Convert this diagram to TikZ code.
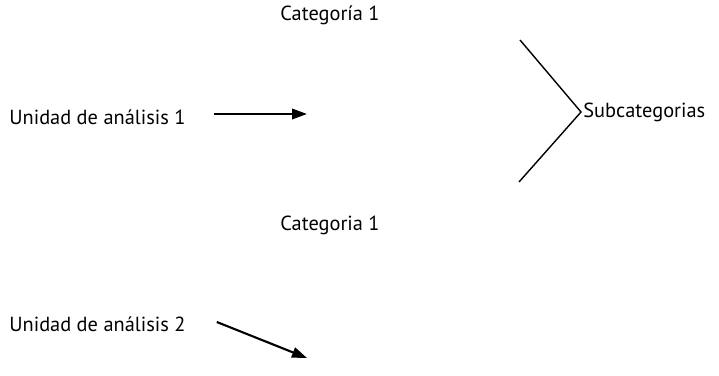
\documentclass[tikz,border=0pt]{standalone}
\usepackage{fontspec}
\setmainfont{PT Sans}
\usetikzlibrary{arrows.meta}

\begin{document}
\begin{tikzpicture}[scale=1,
	etiqueta/.style={font=\fontsize{11.6}{13}\selectfont, inner sep=0pt},
	flecha/.style={-{Triangle[length=3mm, width=2.1mm]}, line width=1.2pt},
	llave/.style={line width=0.8pt}]
	% Page frame
	\useasboundingbox (0,0) rectangle (14.38,7.5);
	% Texts
	\node[etiqueta] (cat1) at (6.6,7.2) {Categoría 1};
	\node[etiqueta, anchor=west] (ua1) at (0.18,5.16) {Unidad de análisis 1};
	\node[etiqueta] (cat2) at (6.6,3) {Categoria 1};
	\node[etiqueta, anchor=west] (ua2) at (0.18,1.02) {Unidad de análisis 2};
	% Chevron
	\coordinate (ltop) at (10.4,6.7);
	\coordinate (lpico) at (11.62,5.26);
	\coordinate (lbot) at (10.38,3.86);
	\draw[llave] (ltop) -- (lpico) -- (lbot);
	\node[etiqueta, anchor=west] (sub) at ([xshift=0.04cm]lpico) {Subcategorias};
	% Arrows
	\coordinate (a1end) at (6.14,5.22);
	\coordinate (a2end) at (6.14,0.34);
	\draw[flecha] ([xshift=0.56cm,yshift=0.06cm]ua1.east) -- (a1end);
	\draw[flecha] ([xshift=0.62cm,yshift=0.04cm]ua2.east) -- (a2end);
\end{tikzpicture}
\end{document}
